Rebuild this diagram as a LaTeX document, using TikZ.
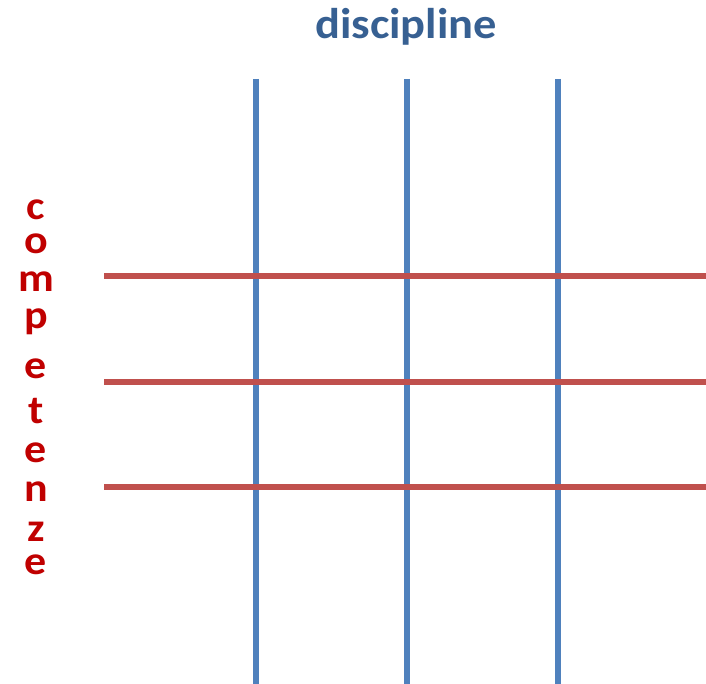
\documentclass[tikz,border=0pt]{standalone}
\usepackage{fontspec}
\setmainfont{Carlito}
\definecolor{disciblu}{HTML}{376092}
\definecolor{compred}{HTML}{C00000}
\definecolor{lineblu}{HTML}{4F81BD}
\definecolor{linered}{HTML}{C0504D}
\tikzset{
  asse/.style={line width=6pt},
  lettera/.style={compred,anchor=base,inner sep=0pt,xscale=1.1,font=\bfseries\fontsize{40}{44}\selectfont}
}
\begin{document}
\begin{tikzpicture}[x=1pt,y=-1pt]
    \useasboundingbox (0,0) rectangle (706,684);

    % Titolo
    \node[disciblu,anchor=base,inner sep=0pt,xscale=1.08,font=\bfseries\fontsize{43}{48}\selectfont] (titolo) at (406,39) {discipline};

    % Discipline (verticali)
    \foreach \x in {256,407,558} \draw[asse,lineblu] (\x,79) -- (\x,684);

    % Competenze (orizzontali)
    \foreach \y in {276,382,487} \draw[asse,linered] (104,\y) -- (706,\y);

    % Scritta verticale
    \foreach \l/\y [count=\i] in {c/220,o/254,m/291,p/328,e/378,t/423,e/462,n/501,z/541,e/574}
        \node[lettera] (comp\i) at (36,\y) {\l};
\end{tikzpicture}
\end{document}
